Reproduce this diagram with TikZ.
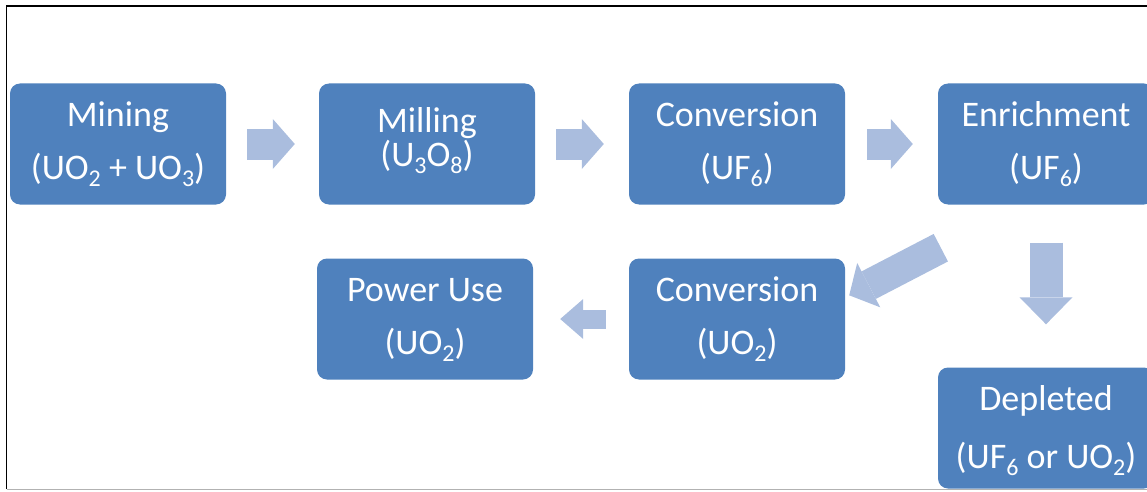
\documentclass[tikz,border=0pt]{standalone}
\usepackage{fontspec}
\setmainfont{Carlito}
\usetikzlibrary{arrows.meta}

\definecolor{stagefill}{RGB}{79,129,189}
\definecolor{flowfill}{RGB}{170,189,222}

\newcommand{\chemsub}[1]{\raisebox{-7pt}{\fontsize{24}{24}\selectfont #1}}
\newcommand{\upstrut}[1]{\rule{0pt}{#1}}
\newcommand{\downstrut}[1]{\rule[-#1]{0pt}{#1}}

\begin{document}
\begin{tikzpicture}[x=1pt, y=1pt,
  stage/.style={fill=stagefill, rounded corners=10pt, minimum width=216pt, minimum height=121pt,
    inner sep=0pt, text=white, align=center, font=\fontsize{36}{53}\selectfont},
  flow/.style={draw=flowfill, line width=31pt,
    -{Triangle[length=22pt 0 0, width=50pt 0 0, line width=0pt 0 0]}},
  thinflow/.style={flow, line width=19pt,
    -{Triangle[length=23pt 0 0, width=40pt 0 0, line width=0pt 0 0]}}
]
\useasboundingbox (0,0) rectangle (1147,491);
\clip (0,0) rectangle (1147,491);

% frame (right side cut off)
\draw[line width=1.5pt] (6.5,2) -- (6.5,485) -- (1147,485);
\draw[gray!60, line width=1pt] (6.5,2) -- (1147,2);

% top row
\node[stage] (mining) at (118,347) {\upstrut{30pt}Mining\\(UO\chemsub{2} + UO\chemsub{3})\downstrut{12pt}};
\node[stage, font=\fontsize{36}{31}\selectfont] (milling) at (427,347) {\upstrut{27pt}Milling\\(U\chemsub{3}O\chemsub{8})\downstrut{16pt}};
\node[stage] (convuf) at (737,347) {\upstrut{30pt}Conversion\\(UF\chemsub{6})\downstrut{12pt}};
\node[stage] (enrich) at (1046,347) {\upstrut{30pt}Enrichment\\(UF\chemsub{6})\downstrut{12pt}};

% bottom rows
\node[stage] (power) at (425,172) {\upstrut{30pt}Power Use\\(UO\chemsub{2})\downstrut{12pt}};
\node[stage] (convuo) at (737,172) {\upstrut{30pt}Conversion\\(UO\chemsub{2})\downstrut{12pt}};
\node[stage, font=\fontsize{36}{58}\selectfont] (depleted) at (1046,63) {\upstrut{30pt}Depleted\\(UF\chemsub{6} or UO\chemsub{2})\downstrut{8pt}};

% block arrows
\draw[flow, shorten <=21pt, shorten >=24pt] (mining) -- (milling);
\draw[flow, shorten <=21pt, shorten >=25pt] (milling) -- (convuf);
\draw[flow, shorten <=22pt, shorten >=25pt] (convuf) -- (enrich);
\draw[flow, line width=33pt, shorten <=38pt, shorten >=43pt,
  -{Triangle[length=27pt 0 0, width=53pt 0 0, line width=0pt 0 0]}] (enrich) -- (depleted);
\draw[flow] ([shift={(3,-43)}]enrich.south west) -- ([shift={(4,-37)}]convuo.north east);
\draw[thinflow, shorten <=23pt, shorten >=27pt] (convuo) -- (power);
\end{tikzpicture}
\end{document}
